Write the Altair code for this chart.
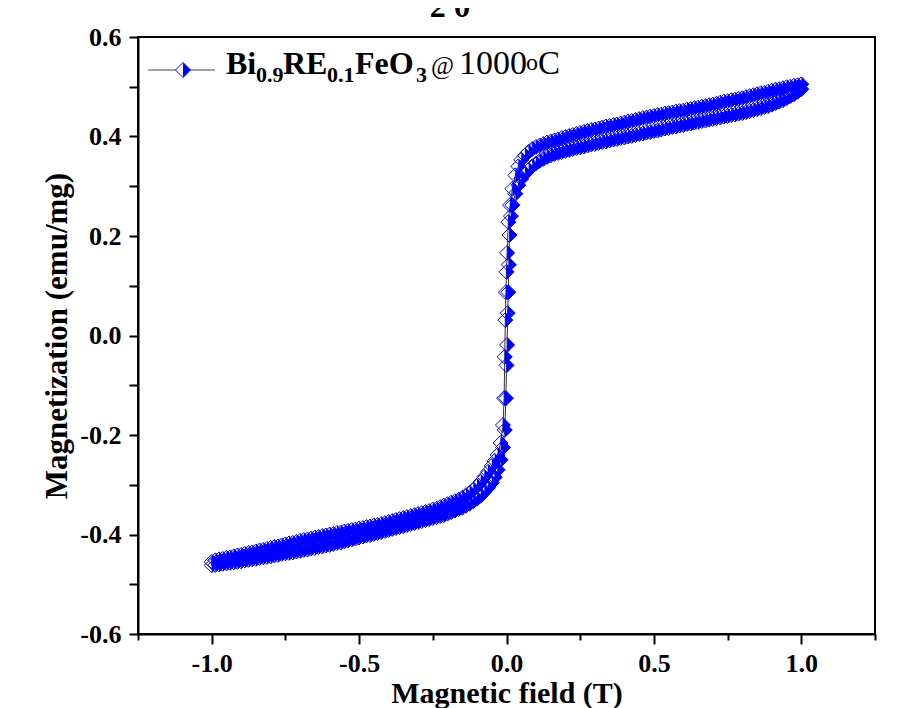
import altair as alt
import pandas as pd

# ---------------- data ----------------
# Descending branch (+1 T -> -1 T)
H_down = [1.0000, 0.9875, 0.9750, 0.9625, 0.9500, 0.9375, 0.9250, 0.9125, 0.9000, 0.8875,
          0.8750, 0.8625, 0.8500, 0.8375, 0.8250, 0.8125, 0.8000, 0.7875, 0.7750, 0.7625,
          0.7500, 0.7375, 0.7250, 0.7125, 0.7000, 0.6875, 0.6750, 0.6625, 0.6500, 0.6375,
          0.6250, 0.6125, 0.6000, 0.5875, 0.5750, 0.5625, 0.5500, 0.5375, 0.5250, 0.5125,
          0.5000, 0.4875, 0.4750, 0.4625, 0.4500, 0.4375, 0.4250, 0.4125, 0.4000, 0.3875,
          0.3750, 0.3625, 0.3500, 0.3375, 0.3250, 0.3125, 0.3000, 0.2875, 0.2750, 0.2625,
          0.2500, 0.2375, 0.2250, 0.2125, 0.2000, 0.1875, 0.1750, 0.1625, 0.1500, 0.1375,
          0.1250, 0.1125, 0.1000, 0.0875, 0.0750, 0.0625, 0.0500,
          0.040, 0.030, 0.020, 0.012, 0.006, 0.002, 0.000, -0.002, -0.004, -0.006,
          -0.008, -0.012, -0.020, -0.030, -0.040,
          -0.0500, -0.0625, -0.0750, -0.0875, -0.1000, -0.1125, -0.1250, -0.1375, -0.1500, -0.1625,
          -0.1750, -0.1875, -0.2000, -0.2125, -0.2250, -0.2375, -0.2500, -0.2625, -0.2750, -0.2875,
          -0.3000, -0.3125, -0.3250, -0.3375, -0.3500, -0.3625, -0.3750, -0.3875, -0.4000, -0.4125,
          -0.4250, -0.4375, -0.4500, -0.4625, -0.4750, -0.4875, -0.5000, -0.5125, -0.5250, -0.5375,
          -0.5500, -0.5625, -0.5750, -0.5875, -0.6000, -0.6125, -0.6250, -0.6375, -0.6500, -0.6625,
          -0.6750, -0.6875, -0.7000, -0.7125, -0.7250, -0.7375, -0.7500, -0.7625, -0.7750, -0.7875,
          -0.8000, -0.8125, -0.8250, -0.8375, -0.8500, -0.8625, -0.8750, -0.8875, -0.9000, -0.9125,
          -0.9250, -0.9375, -0.9500, -0.9625, -0.9750, -0.9875, -1.0000]
M_down = [0.505, 0.503, 0.502, 0.500, 0.499, 0.497, 0.495, 0.494, 0.492, 0.490,
          0.488, 0.487, 0.485, 0.483, 0.481, 0.479, 0.477, 0.476, 0.474, 0.473,
          0.471, 0.470, 0.468, 0.466, 0.464, 0.463, 0.461, 0.460, 0.458, 0.457,
          0.455, 0.454, 0.452, 0.451, 0.450, 0.448, 0.447, 0.446, 0.444, 0.443,
          0.441, 0.440, 0.438, 0.437, 0.435, 0.433, 0.431, 0.430, 0.428, 0.426,
          0.424, 0.423, 0.421, 0.420, 0.418, 0.416, 0.414, 0.413, 0.411, 0.409,
          0.407, 0.405, 0.403, 0.401, 0.399, 0.397, 0.394, 0.392, 0.390, 0.388,
          0.385, 0.382, 0.379, 0.375, 0.369, 0.362, 0.353,
          0.340, 0.322, 0.295, 0.262, 0.228, 0.166, 0.128, 0.087, 0.031, -0.043,
          -0.126, -0.180, -0.216, -0.240, -0.252,
          -0.262, -0.274, -0.284, -0.294, -0.303, -0.310, -0.316, -0.321, -0.326, -0.330,
          -0.333, -0.336, -0.339, -0.342, -0.345, -0.348, -0.350, -0.353, -0.355, -0.357,
          -0.359, -0.361, -0.363, -0.365, -0.367, -0.369, -0.371, -0.373, -0.375, -0.377,
          -0.379, -0.381, -0.382, -0.384, -0.385, -0.387, -0.388, -0.390, -0.391, -0.393,
          -0.394, -0.396, -0.397, -0.399, -0.400, -0.402, -0.403, -0.405, -0.406, -0.408,
          -0.410, -0.411, -0.413, -0.415, -0.417, -0.418, -0.420, -0.422, -0.424, -0.425,
          -0.427, -0.429, -0.431, -0.432, -0.434, -0.436, -0.437, -0.439, -0.441, -0.442,
          -0.444, -0.446, -0.447, -0.449, -0.450, -0.452, -0.455]

# Ascending branch (-1 T -> +1 T)
H_up = [-1.0000, -0.9875, -0.9750, -0.9625, -0.9500, -0.9375, -0.9250, -0.9125, -0.9000, -0.8875,
        -0.8750, -0.8625, -0.8500, -0.8375, -0.8250, -0.8125, -0.8000, -0.7875, -0.7750, -0.7625,
        -0.7500, -0.7375, -0.7250, -0.7125, -0.7000, -0.6875, -0.6750, -0.6625, -0.6500, -0.6375,
        -0.6250, -0.6125, -0.6000, -0.5875, -0.5750, -0.5625, -0.5500, -0.5375, -0.5250, -0.5125,
        -0.5000, -0.4875, -0.4750, -0.4625, -0.4500, -0.4375, -0.4250, -0.4125, -0.4000, -0.3875,
        -0.3750, -0.3625, -0.3500, -0.3375, -0.3250, -0.3125, -0.3000, -0.2875, -0.2750, -0.2625,
        -0.2500, -0.2375, -0.2250, -0.2125, -0.2000, -0.1875, -0.1750, -0.1625, -0.1500, -0.1375,
        -0.1250, -0.1125, -0.1000, -0.0875, -0.0750, -0.0625, -0.0500,
        -0.040, -0.030, -0.020, -0.012, -0.006, -0.002, 0.000, 0.002, 0.004, 0.006,
        0.008, 0.010, 0.015, 0.020, 0.030, 0.040,
        0.0500, 0.0625, 0.0750, 0.0875, 0.1000, 0.1125, 0.1250, 0.1375, 0.1500, 0.1625,
        0.1750, 0.1875, 0.2000, 0.2125, 0.2250, 0.2375, 0.2500, 0.2625, 0.2750, 0.2875,
        0.3000, 0.3125, 0.3250, 0.3375, 0.3500, 0.3625, 0.3750, 0.3875, 0.4000, 0.4125,
        0.4250, 0.4375, 0.4500, 0.4625, 0.4750, 0.4875, 0.5000, 0.5125, 0.5250, 0.5375,
        0.5500, 0.5625, 0.5750, 0.5875, 0.6000, 0.6125, 0.6250, 0.6375, 0.6500, 0.6625,
        0.6750, 0.6875, 0.7000, 0.7125, 0.7250, 0.7375, 0.7500, 0.7625, 0.7750, 0.7875,
        0.8000, 0.8125, 0.8250, 0.8375, 0.8500, 0.8625, 0.8750, 0.8875, 0.9000, 0.9125,
        0.9250, 0.9375, 0.9500, 0.9625, 0.9750, 0.9875, 1.0000]
M_up = [-0.462, -0.461, -0.460, -0.459, -0.458, -0.457, -0.456, -0.455, -0.454, -0.452,
        -0.451, -0.450, -0.449, -0.447, -0.446, -0.445, -0.444, -0.442, -0.441, -0.439,
        -0.438, -0.437, -0.436, -0.434, -0.433, -0.431, -0.430, -0.428, -0.427, -0.425,
        -0.424, -0.422, -0.421, -0.419, -0.417, -0.416, -0.414, -0.412, -0.410, -0.408,
        -0.406, -0.404, -0.402, -0.401, -0.399, -0.397, -0.395, -0.393, -0.391, -0.389,
        -0.387, -0.385, -0.383, -0.381, -0.379, -0.377, -0.375, -0.373, -0.371, -0.369,
        -0.367, -0.365, -0.363, -0.361, -0.358, -0.355, -0.352, -0.349, -0.346, -0.342,
        -0.338, -0.333, -0.328, -0.322, -0.314, -0.306, -0.296,
        -0.285, -0.270, -0.250, -0.225, -0.190, -0.126, -0.060, -0.019, 0.045, 0.087,
        0.142, 0.202, 0.240, 0.262, 0.285, 0.302,
        0.315, 0.325, 0.333, 0.340, 0.346, 0.351, 0.355, 0.359, 0.362, 0.365,
        0.367, 0.369, 0.371, 0.373, 0.375, 0.377, 0.378, 0.380, 0.382, 0.384,
        0.385, 0.387, 0.389, 0.390, 0.392, 0.394, 0.395, 0.397, 0.398, 0.400,
        0.401, 0.403, 0.405, 0.406, 0.408, 0.409, 0.411, 0.412, 0.414, 0.416,
        0.417, 0.419, 0.420, 0.422, 0.423, 0.425, 0.426, 0.428, 0.429, 0.431,
        0.432, 0.434, 0.435, 0.437, 0.438, 0.440, 0.441, 0.443, 0.444, 0.446,
        0.447, 0.449, 0.451, 0.453, 0.455, 0.457, 0.459, 0.461, 0.464, 0.467,
        0.470, 0.473, 0.477, 0.481, 0.485, 0.490, 0.495]

x_ticks = [-1.25, -1.0, -0.75, -0.5, -0.25, 0.0, 0.25, 0.5, 0.75, 1.0, 1.25]
y_ticks = [-0.6, -0.5, -0.4, -0.3, -0.2, -0.1, 0.0, 0.1, 0.2, 0.3, 0.4, 0.5, 0.6]

n_d = min(len(H_down), len(M_down))
n_u = min(len(H_up), len(M_up))
H_all = H_down[:n_d] + H_up[:n_u]
M_all = M_down[:n_d] + M_up[:n_u]
df = pd.DataFrame({"H": H_all, "M": M_all, "idx": list(range(len(H_all)))})

FONT = "Liberation Serif"
BLUE = "#0000FF"
W, HT = 737, 597
OX, OY = 138, 37  # plot origin on page
MS = 225  # marker size (15 px across)

xmaj = "abs(datum.value*2 - round(datum.value*2)) < 0.001"
ymaj = "abs(datum.value*5 - round(datum.value*5)) < 0.001"
xlab = f"{xmaj} ? (datum.value < 0 ? '-' : '') + format(abs(datum.value), '.1f') : ''"
ylab = f"{ymaj} ? (datum.value < -0.0001 ? '-' : '') + format(abs(datum.value), '.1f') : ''"

xaxis = alt.Axis(values=x_ticks, labelExpr=xlab, title="Magnetic field (T)",
                 tickSize={"condition": {"test": xmaj, "value": 10}, "value": 6},
                 labelPadding=6, labelFontSize=26, titleFontSize=30,
                 titleY=68, titleBaseline="alphabetic", grid=False, labelOverlap=False)
yaxis = alt.Axis(values=y_ticks, labelExpr=ylab, title="Magnetization (emu/mg)",
                 tickSize=9, labelPadding=8, labelFontSize=26, titleFontSize=31,
                 titleX=-72, titleY=HT / 2, titleAngle=270, titleAlign="center",
                 titleBaseline="alphabetic", grid=False, labelOverlap=False)

xs = alt.Scale(domain=[-1.25, 1.25], nice=False, zero=False)
ys = alt.Scale(domain=[-0.6, 0.6], nice=False, zero=False)

base = alt.Chart(df).encode(
    x=alt.X("H:Q", scale=xs, axis=xaxis),
    y=alt.Y("M:Q", scale=ys, axis=yaxis),
)

line = base.mark_line(color="#333333", strokeWidth=1).encode(order="idx:Q")
outline = base.mark_point(shape="diamond", filled=False, color=BLUE, size=MS,
                          strokeWidth=1, opacity=1)
half = base.mark_point(shape="M0,-1L1,0L0,1Z", filled=True, color=BLUE, size=MS,
                       strokeWidth=0, opacity=1)

one = pd.DataFrame({"a": [0]})

def txt(s, px, py, size, weight="bold"):
    return alt.Chart(one).mark_text(text=s, font=FONT, fontSize=size, fontWeight=weight,
                                    align="left", baseline="alphabetic", color="black").encode(
        x=alt.value(px - OX), y=alt.value(py - OY))

leg_line = alt.Chart(one).mark_rule(color="#444444", strokeWidth=1).encode(
    x=alt.value(148 - OX), x2=alt.value(215 - OX), y=alt.value(70 - OY))
leg_fill = alt.Chart(one).mark_point(shape="M0,-1L-1,0L0,1Z", filled=True, color="white",
                                     size=MS, strokeWidth=0, opacity=1).encode(
    x=alt.value(183 - OX), y=alt.value(70 - OY))
leg_out = alt.Chart(one).mark_point(shape="diamond", filled=False, color=BLUE, size=MS,
                                    strokeWidth=1, opacity=1).encode(
    x=alt.value(183 - OX), y=alt.value(70 - OY))
leg_half = alt.Chart(one).mark_point(shape="M0,-1L1,0L0,1Z", filled=True, color=BLUE,
                                     size=MS, strokeWidth=0, opacity=1).encode(
    x=alt.value(183 - OX), y=alt.value(70 - OY))

texts = [
    txt("Bi", 226, 74, 32),
    txt("0.9", 256, 82, 22),
    txt("RE", 283, 74, 32),
    txt("0.1", 327, 82, 22),
    txt("FeO", 355, 74, 32),
    txt("3", 416, 82, 22),
    txt("@", 431, 74, 25, "normal"),
    txt("1000", 459, 74, 34, "normal"),
    txt("o", 526, 70, 24, "normal"),
    txt("C", 538, 74, 33, "normal"),
]

top_title = alt.Chart(one).mark_text(text="2 θ", font=FONT, fontSize=32, fontWeight="bold",
                                     align="center", baseline="alphabetic", color="black").encode(
    x=alt.value(450 - OX), y=alt.value(17 - OY))

chart = alt.layer(line, outline, half, leg_line, leg_fill, leg_out, leg_half, *texts, top_title).properties(
    width=W, height=HT,
    autosize=alt.AutoSizeParams(type="none"),
    padding={"left": OX - 8, "top": OY - 8, "right": 16, "bottom": 90},
).configure_view(stroke="black", strokeWidth=2).configure_axis(
    domainColor="black", domainWidth=2, tickColor="black", tickWidth=2,
    labelFont=FONT, labelFontWeight="bold", labelColor="black",
    titleFont=FONT, titleFontWeight="bold", titleColor="black",
)

chart.save("out.html", embed_options={"renderer": "svg", "actions": False})
